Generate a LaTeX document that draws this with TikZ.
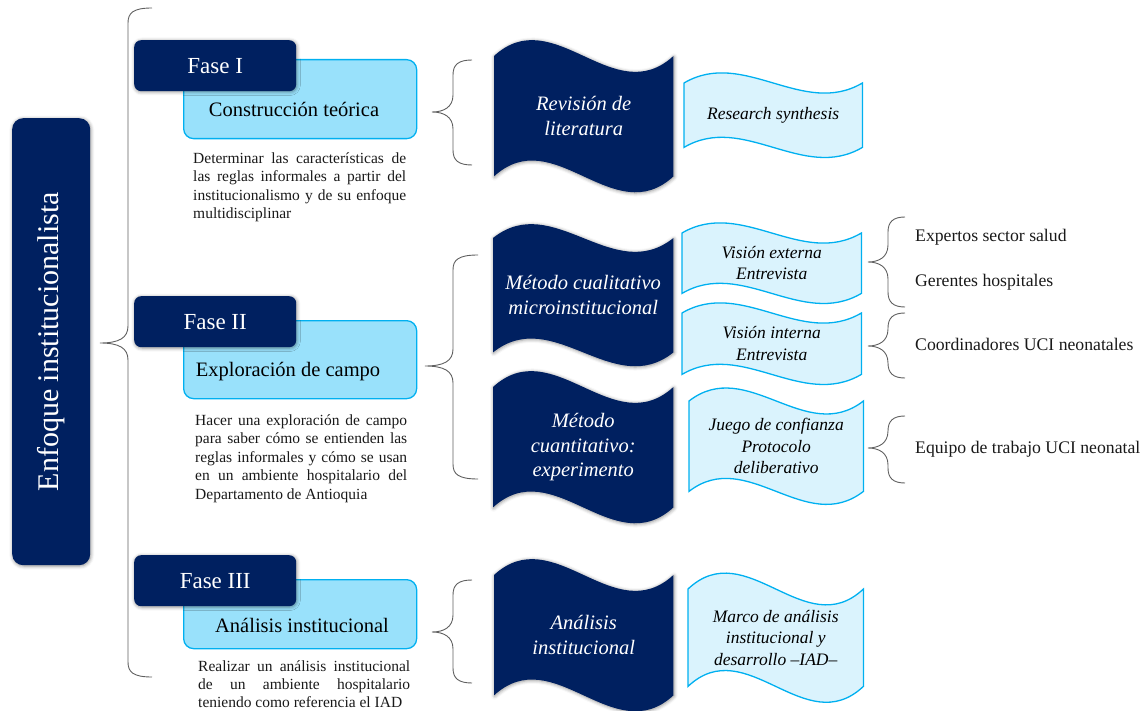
\documentclass[tikz,border=0pt]{standalone}
\usepackage{fontspec}
\setmainfont{Liberation Serif}
\usetikzlibrary{calc,shadows.blur}

\definecolor{navy}{RGB}{0,32,96}
\definecolor{skyfill}{RGB}{153,225,251}
\definecolor{skyline}{RGB}{0,176,240}
\definecolor{palefill}{RGB}{218,243,253}
\definecolor{bracegray}{RGB}{95,95,95}
\definecolor{bodytext}{RGB}{25,25,25}

\pgfdeclarelayer{back}
\pgfsetlayers{back,main}

% waved banner drawn behind a named node: #1 node, #2 wave depth, #3 style
\newcommand\wavefill[3]{%
  \begin{pgfonlayer}{back}
    \path[#3] (#1.north west)
      .. controls ($(#1.north west)!1/3!(#1.north east)+(0pt,#2)$)
              and ($(#1.north west)!2/3!(#1.north east)-(0pt,#2)$) .. (#1.north east)
      -- (#1.south east)
      .. controls ($(#1.south west)!2/3!(#1.south east)-(0pt,#2)$)
              and ($(#1.south west)!1/3!(#1.south east)+(0pt,#2)$) .. (#1.south west)
      -- cycle;
  \end{pgfonlayer}}

% curly brace: #1 end x, #2 spine x, #3 tip x, #4 top y, #5 tip y, #6 bottom y
\newcommand\curlybrace[6]{%
  \draw[brc] (#1,#4) .. controls (#2+5,#4) and (#2,#4+5) .. (#2,#4+15)
    -- (#2,#5-17) .. controls (#2,#5-5) and (#2-9,#5) .. (#3,#5)
    .. controls (#2-9,#5) and (#2,#5+5) .. (#2,#5+17)
    -- (#2,#6-15) .. controls (#2,#6-5) and (#2+5,#6) .. (#1,#6);}

\tikzset{
  softshadow/.style={blur shadow={shadow xshift=0.6pt, shadow yshift=-0.8pt,
      shadow blur radius=3.5pt, shadow opacity=45}},
  mainbox/.style={fill=navy, rounded corners=11pt, inner sep=0, text=white,
      font=\fontsize{30}{34}\selectfont, softshadow},
  phasebox/.style={fill=navy, rounded corners=7pt, inner sep=0, text=white,
      minimum width=162pt, minimum height=51pt,
      font=\fontsize{23}{27}\selectfont, softshadow},
  stagebox/.style={fill=skyfill, draw=skyline, line width=1.3pt,
      rounded corners=10pt, inner sep=0, minimum width=233pt},
  stagetext/.style={inner sep=0, anchor=base, font=\fontsize{20.5}{24}\selectfont},
  desc/.style={inner sep=0, anchor=north west, align=left, text=bodytext,
      font=\fontsize{15.5}{18.5}\selectfont},
  wavebox/.style={inner sep=0, anchor=north west, align=center, text=white,
      font=\itshape\fontsize{20.5}{24.5}\selectfont},
  flagbox/.style={inner sep=0, anchor=north west, align=center, text=black,
      font=\itshape\fontsize{17.5}{21.5}\selectfont},
  darkwave/.style={fill=navy, softshadow},
  palewave/.style={fill=palefill, draw=skyline, line width=1.3pt},
  actor/.style={inner sep=0, anchor=base west, text=bodytext,
      font=\fontsize{17.7}{21}\selectfont},
  brc/.style={draw=bracegray, line width=0.9pt},
}

\begin{document}
\begin{tikzpicture}[x=1pt, y=-1pt]
\useasboundingbox (0,0) rectangle (1148,711);

% left title bar
\node[mainbox, anchor=north west, minimum width=78pt, minimum height=447pt]
  (enfoque) at (12,118) {\rotatebox{90}{Enfoque institucionalista}};

% outer brace
\curlybrace{152}{128}{100}{8}{343}{677}

% ---------- phase I ----------
\node[stagebox, anchor=north west, minimum height=79pt] (s1) at (183,59) {};
\node[phasebox, anchor=north west] (f1) at (134,40) {Fase I};
\node[stagetext] (s1t) at (294,117) {Construcción teórica};
\node[desc] (d1) at (193,151) {%
  \makebox[213pt][s]{\rule{0pt}{12pt}Determinar las características de}\\
  \makebox[213pt][s]{las reglas informales a partir del}\\
  \makebox[213pt][s]{institucionalismo y de su enfoque}\\
  multidisciplinar};

% ---------- phase II ----------
\node[stagebox, anchor=north west, minimum height=78pt] (s2) at (183,320) {};
\node[phasebox, anchor=north west] (f2) at (134,296) {Fase II};
\node[stagetext] (s2t) at (288,376) {Exploración de campo};
\node[desc] (d2) at (195,413) {%
  \makebox[212pt][s]{\rule{0pt}{12pt}Hacer una exploración de campo}\\
  \makebox[212pt][s]{para saber cómo se entienden las}\\
  \makebox[212pt][s]{reglas informales y cómo se usan}\\
  \makebox[212pt][s]{en un ambiente hospitalario del}\\
  Departamento de Antioquia};

% ---------- phase III ----------
\node[stagebox, anchor=north west, minimum height=69pt] (s3) at (183,579) {};
\node[phasebox, anchor=north west] (f3) at (134,555) {Fase III};
\node[stagetext] (s3t) at (302,632) {Análisis institucional};
\node[desc, font=\fontsize{15.5}{18}\selectfont] (d3) at (198,659) {%
  \makebox[212pt][s]{\rule{0pt}{12pt}Realizar un análisis institucional}\\
  \makebox[212pt][s]{de un ambiente hospitalario}\\
  teniendo como referencia el IAD};

% middle braces
\curlybrace{472}{453}{432}{60}{112}{165}
\curlybrace{478}{453}{425}{255}{366}{479}
\curlybrace{472}{453}{432}{580}{632}{683}

% methods (dark banners)
\node[wavebox, minimum width=179pt, minimum height=120pt] (m1) at (494,56)
  {Revisión de\\literatura};
\wavefill{m1}{55pt}{darkwave}
\node[wavebox, minimum width=180pt, minimum height=114pt] (m2) at (493,238)
  {Método cualitativo\\microinstitucional};
\wavefill{m2}{48pt}{darkwave}
\node[wavebox, minimum width=180pt, minimum height=120pt] (m3) at (493,387)
  {Método\\cuantitativo:\\experimento};
\wavefill{m3}{55pt}{darkwave}
\node[wavebox, minimum width=179pt, minimum height=120pt] (m4) at (494,575)
  {Análisis\\institucional};
\wavefill{m4}{55pt}{darkwave}

% tools (pale banners)
\node[flagbox, minimum width=178pt, minimum height=64pt] (t1) at (684,83)
  {Research synthesis};
\wavefill{t1}{35pt}{palewave}
\node[flagbox, minimum width=179pt, minimum height=60pt] (t2) at (682,233)
  {Visión externa\\Entrevista};
\wavefill{t2}{35pt}{palewave}
\node[flagbox, minimum width=179pt, minimum height=61pt] (t3) at (682,313)
  {Visión interna\\Entrevista};
\wavefill{t3}{35pt}{palewave}
\node[flagbox, minimum width=174pt, minimum height=90pt] (t4) at (689,401)
  {Juego de confianza\\Protocolo\\deliberativo};
\wavefill{t4}{45pt}{palewave}
\node[flagbox, minimum width=175pt, minimum height=97pt] (t5) at (688,589)
  {Marco de análisis\\institucional y\\desarrollo –IAD–};
\wavefill{t5}{55pt}{palewave}

% right braces and participants
\curlybrace{905}{888}{868}{217}{262}{307}
\curlybrace{905}{888}{868}{313}{346}{378}
\curlybrace{905}{888}{868}{416}{448}{483}

\node[actor] (a1) at (915,242) {Expertos sector salud};
\node[actor] (a2) at (915,287) {Gerentes hospitales};
\node[actor] (a3) at (915,350) {Coordinadores UCI neonatales};
\node[actor] (a4) at (915,453) {Equipo de trabajo UCI neonatal};
\end{tikzpicture}
\end{document}
